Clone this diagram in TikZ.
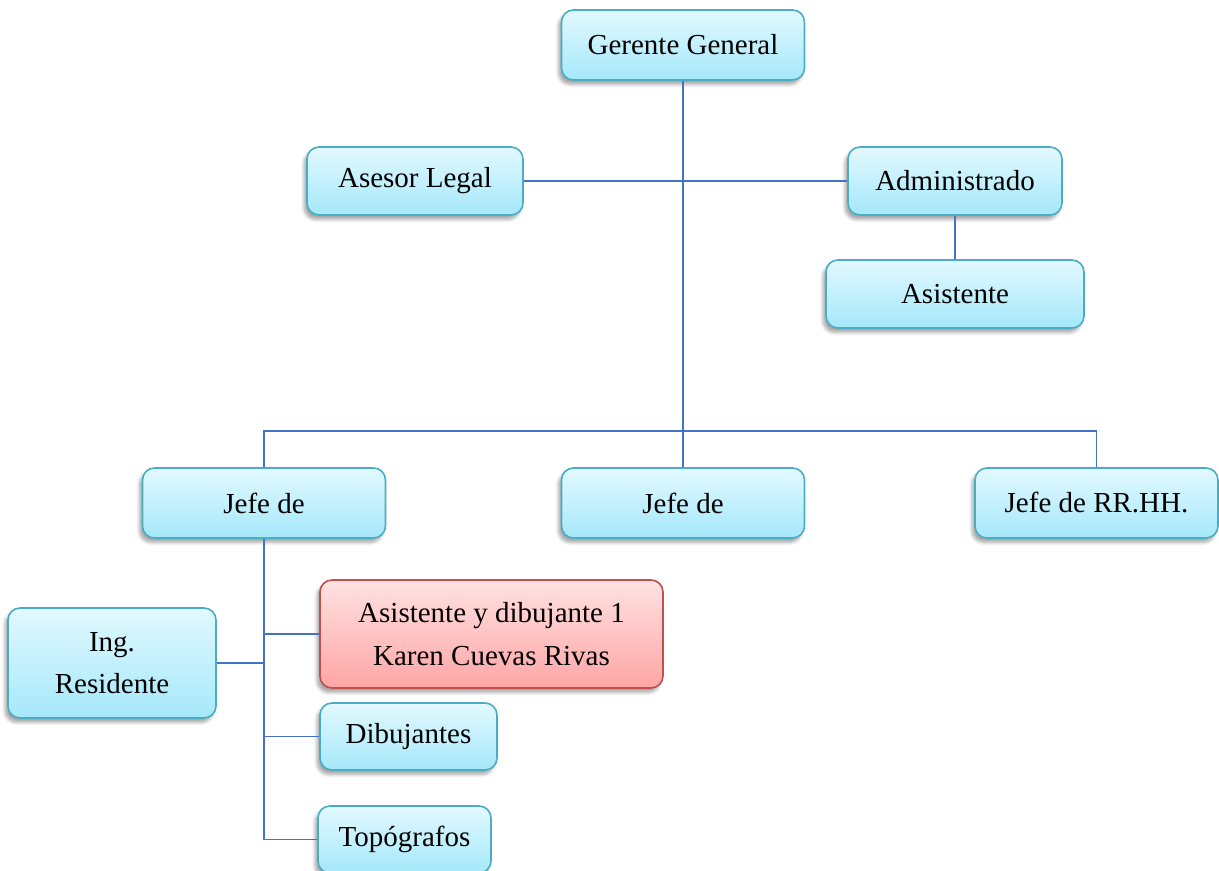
\documentclass[tikz,border=0pt]{standalone}
\usepackage{fontspec}
\setmainfont{Liberation Serif}
\usetikzlibrary{shadows.blur}
\definecolor{boxline}{RGB}{75,172,198}
\definecolor{boxtop}{RGB}{226,249,255}
\definecolor{boxbot}{RGB}{165,232,250}
\definecolor{redline}{RGB}{192,80,77}
\definecolor{redtop}{RGB}{255,226,226}
\definecolor{redbot}{RGB}{255,165,165}
\definecolor{link}{RGB}{68,114,196}
\begin{document}
\begin{tikzpicture}[
    post/.style={draw=boxline, line width=0.9pt, rounded corners=0.24cm,
        top color=boxtop, bottom color=boxbot, align=center, inner sep=0pt,
        minimum width=4.86cm, minimum height=1.4cm,
        font=\fontsize{16.5}{24}\selectfont,
        blur shadow={shadow xshift=-0.06cm, shadow yshift=-0.09cm, shadow opacity=35, shadow blur steps=6}},
    redpost/.style={post, draw=redline, top color=redtop, bottom color=redbot},
    link/.style={draw=link, line width=0.9pt}]
    \useasboundingbox (0,0) rectangle (24.38,-17.42);

    \node[post] (gerente) at (13.66,-0.9) {Gerente General};
    \node[post, minimum width=4.32cm, minimum height=1.36cm] (asesor) at (8.3,-3.62) {Asesor Legal};
    \node[post, minimum width=4.28cm, minimum height=1.36cm] (admin) at (19.1,-3.62) {Administrado};
    \node[post, minimum width=5.16cm, minimum height=1.36cm] (asist) at (19.1,-5.88) {Asistente};

    \node[post] (jefeL) at (5.28,-10.06) {Jefe de};
    \node[post] (jefeM) at (13.66,-10.06) {Jefe de};
    \node[post] (jefeR) at (21.93,-10.06) {Jefe de RR.HH.};

    \node[post, minimum width=4.16cm, minimum height=2.2cm] (ing) at (2.24,-13.26) {Ing.\\Residente};
    \node[redpost, minimum width=6.86cm, minimum height=2.16cm] (dibu1) at (9.83,-12.68) {Asistente y dibujante 1\\Karen Cuevas Rivas};
    \node[post, minimum width=3.54cm, minimum height=1.34cm] (dibus) at (8.17,-14.73) {Dibujantes};
    \node[post, minimum width=3.46cm, minimum height=1.34cm] (topo) at (8.09,-16.79) {Topógrafos};

    \coordinate (bus) at (0,-8.62);

    \draw[link] (gerente) -- (jefeM);
    \draw[link] (asesor) -- (admin);
    \draw[link] (admin) -- (asist);
    \draw[link] (jefeL.north) -- (jefeL.north |- bus) -- (jefeR.north |- bus) -- (jefeR.north);
    % ramas del jefe izquierdo
    \draw[link] (jefeL.south) -- (jefeL.south |- topo.west) -- (topo.west);
    \draw[link] (jefeL.south |- dibu1.west) -- (dibu1.west);
    \draw[link] (jefeL.south |- dibus.west) -- (dibus.west);
    \draw[link] (ing.east) -- (jefeL.south |- ing.east);
\end{tikzpicture}
\end{document}
